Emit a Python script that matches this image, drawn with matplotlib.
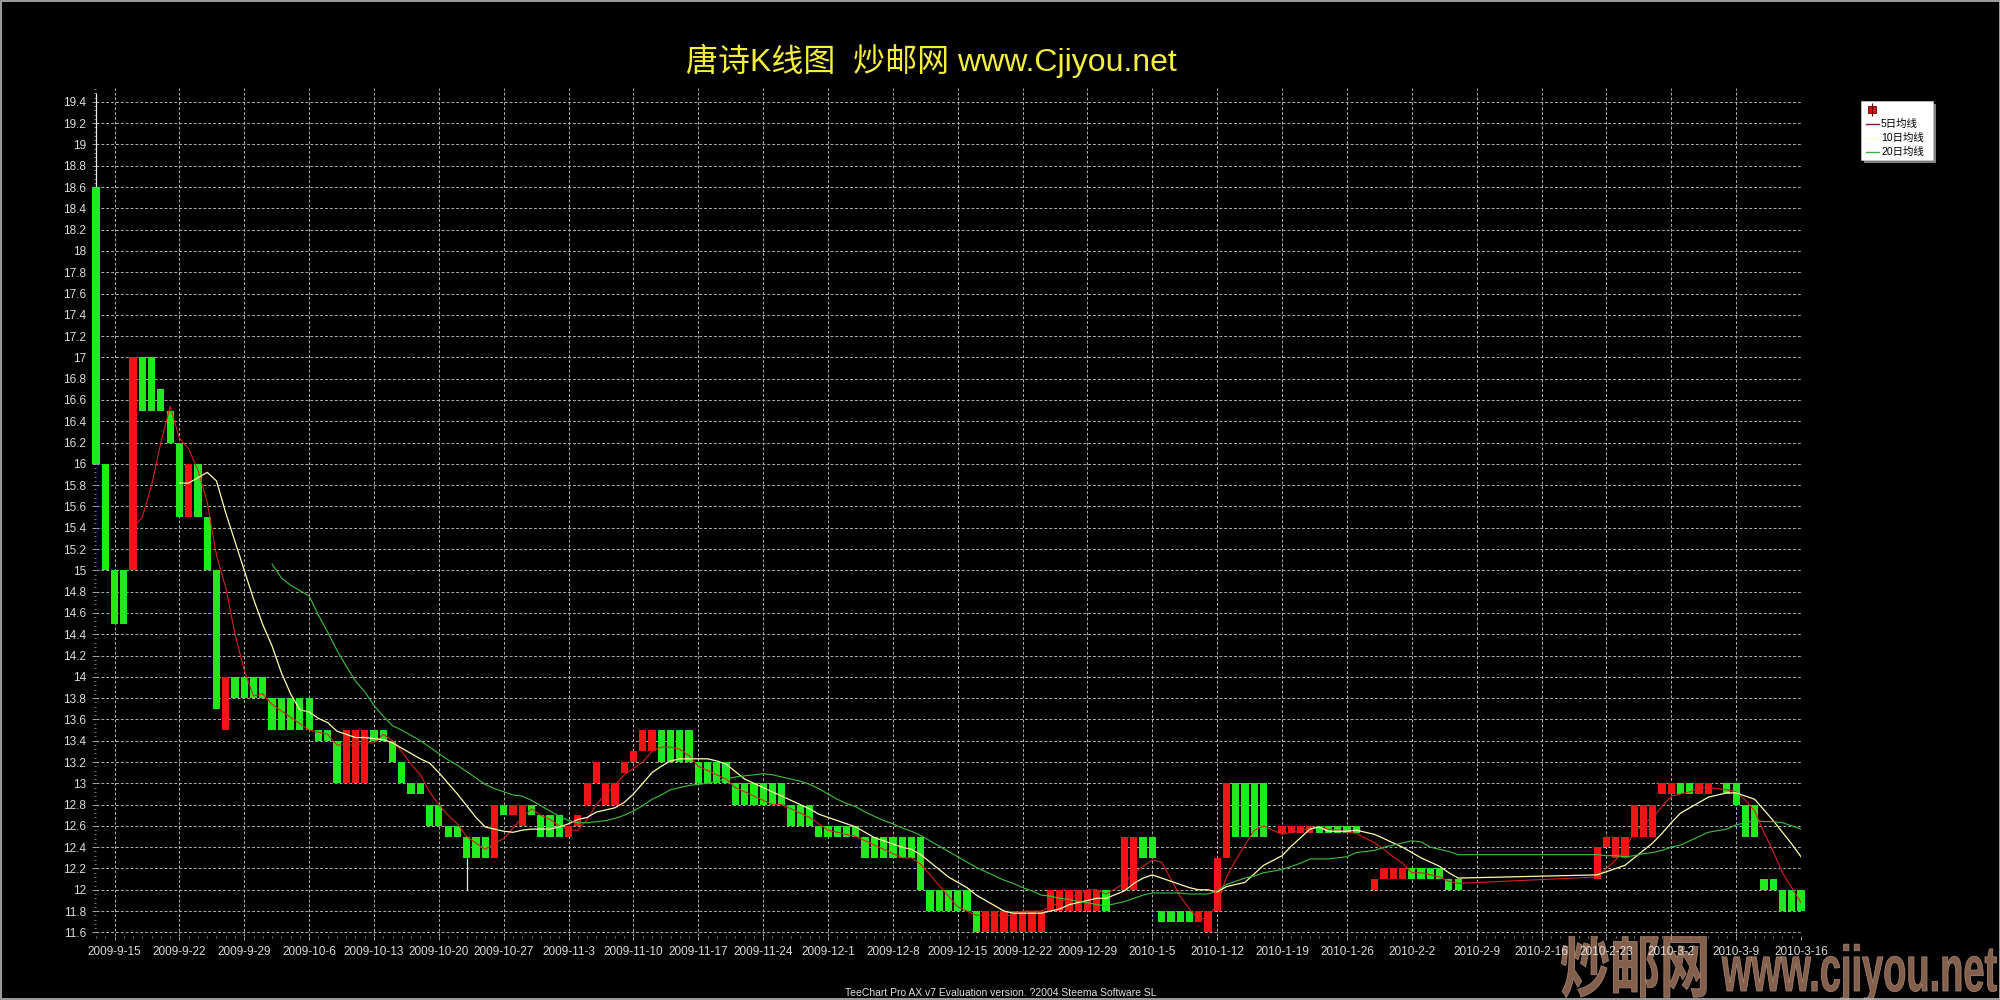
import matplotlib
matplotlib.use('Agg')
import matplotlib.pyplot as plt
import matplotlib.dates as mdates
import pandas as pd
from matplotlib.ticker import MultipleLocator, AutoMinorLocator, FuncFormatter
from matplotlib.patches import Rectangle, PathPatch
from matplotlib.textpath import TextPath
from matplotlib.font_manager import FontProperties
from matplotlib.transforms import Affine2D

plt.rcParams['font.family'] = ['Liberation Sans', 'Noto Sans CJK SC', 'DejaVu Sans']

# ---- candle data ----
dates = [
    '2009-09-13', '2009-09-14', '2009-09-15', '2009-09-16', '2009-09-17', '2009-09-18', '2009-09-19',
    '2009-09-20', '2009-09-21', '2009-09-22', '2009-09-23', '2009-09-24', '2009-09-25', '2009-09-26',
    '2009-09-27', '2009-09-28', '2009-09-29', '2009-09-30',
    '2009-10-01', '2009-10-02', '2009-10-03', '2009-10-04', '2009-10-05', '2009-10-06', '2009-10-07',
    '2009-10-08', '2009-10-09', '2009-10-10', '2009-10-11', '2009-10-12', '2009-10-13', '2009-10-14',
    '2009-10-15', '2009-10-16', '2009-10-17', '2009-10-18', '2009-10-19', '2009-10-20', '2009-10-21',
    '2009-10-22', '2009-10-23', '2009-10-24', '2009-10-25', '2009-10-26', '2009-10-27', '2009-10-28',
    '2009-10-29', '2009-10-30', '2009-10-31',
    '2009-11-01', '2009-11-02', '2009-11-03', '2009-11-04', '2009-11-05', '2009-11-06', '2009-11-07',
    '2009-11-08', '2009-11-09', '2009-11-10', '2009-11-11', '2009-11-12', '2009-11-13', '2009-11-14',
    '2009-11-15', '2009-11-16', '2009-11-17', '2009-11-18', '2009-11-19', '2009-11-20', '2009-11-21',
    '2009-11-22', '2009-11-23', '2009-11-24', '2009-11-25', '2009-11-26', '2009-11-27', '2009-11-28',
    '2009-11-29', '2009-11-30',
    '2009-12-01', '2009-12-02', '2009-12-03', '2009-12-04', '2009-12-05', '2009-12-06', '2009-12-07',
    '2009-12-08', '2009-12-09', '2009-12-10', '2009-12-11', '2009-12-12', '2009-12-13', '2009-12-14',
    '2009-12-15', '2009-12-16', '2009-12-17', '2009-12-18', '2009-12-19', '2009-12-20', '2009-12-21',
    '2009-12-22', '2009-12-23', '2009-12-24', '2009-12-25', '2009-12-26', '2009-12-27', '2009-12-28',
    '2009-12-29', '2009-12-30', '2009-12-31',
    '2010-01-02', '2010-01-03', '2010-01-04', '2010-01-05', '2010-01-06', '2010-01-07', '2010-01-08',
    '2010-01-09', '2010-01-10', '2010-01-11', '2010-01-12', '2010-01-13', '2010-01-14', '2010-01-15',
    '2010-01-16', '2010-01-17',
    '2010-01-19', '2010-01-20', '2010-01-21', '2010-01-22', '2010-01-23', '2010-01-24', '2010-01-25',
    '2010-01-26', '2010-01-27',
    '2010-01-29', '2010-01-30', '2010-01-31', '2010-02-01', '2010-02-02', '2010-02-03', '2010-02-04',
    '2010-02-05', '2010-02-06', '2010-02-07',
    '2010-02-22', '2010-02-23', '2010-02-24', '2010-02-25', '2010-02-26', '2010-02-27', '2010-02-28',
    '2010-03-01', '2010-03-02', '2010-03-03', '2010-03-04', '2010-03-05', '2010-03-06',
    '2010-03-08', '2010-03-09', '2010-03-10', '2010-03-11', '2010-03-12', '2010-03-13', '2010-03-14',
    '2010-03-15', '2010-03-16',
]

opens = [
    18.6, 16.0, 15.0, 15.0, 15.0, 17.0, 17.0, 16.7, 16.5, 16.2, 15.5, 16.0, 15.5, 15.0, 13.5, 14.0, 14.0, 14.0,
    14.0, 13.8, 13.8, 13.8, 13.8, 13.8, 13.5, 13.5, 13.4, 13.0, 13.0, 13.0, 13.5, 13.5, 13.4, 13.2, 13.0, 13.0,
    12.8, 12.8, 12.6, 12.6, 12.5, 12.5, 12.5, 12.3, 12.8, 12.7, 12.6, 12.8, 12.7,
    12.7, 12.7, 12.5, 12.6, 12.8, 13.0, 12.8, 12.8, 13.1, 13.2, 13.3, 13.3, 13.5, 13.5, 13.5, 13.5, 13.2, 13.2,
    13.2, 13.2, 13.0, 13.0, 13.0, 13.0, 13.0, 13.0, 12.8, 12.8, 12.8, 12.6,
    12.6, 12.6, 12.6, 12.6, 12.5, 12.5, 12.5, 12.5, 12.5, 12.5, 12.5, 12.0, 12.0, 12.0, 12.0, 12.0, 11.8, 11.6,
    11.6, 11.6, 11.6, 11.6, 11.6, 11.6, 11.8, 11.8, 11.8, 11.8, 11.8, 11.8, 12.0,
    12.0, 12.0, 12.5, 12.5, 11.8, 11.8, 11.8, 11.8, 11.7, 11.6, 11.8, 12.3, 13.0, 13.0, 13.0, 13.0,
    12.53, 12.53, 12.53, 12.53, 12.6, 12.6, 12.6, 12.6, 12.6,
    12.0, 12.1, 12.1, 12.1, 12.2, 12.2, 12.2, 12.2, 12.1, 12.1,
    12.1, 12.4, 12.3, 12.3, 12.5, 12.5, 12.5, 12.9, 12.9, 13.0, 13.0, 12.9, 12.9,
    13.0, 13.0, 12.8, 12.8, 12.1, 12.1, 12.0, 12.0, 12.0,
]

closes = [
    16.0, 15.0, 14.5, 14.5, 17.0, 16.5, 16.5, 16.5, 16.2, 15.5, 16.0, 15.5, 15.0, 13.7, 14.0, 13.8, 13.8, 13.8,
    13.8, 13.5, 13.5, 13.5, 13.5, 13.5, 13.4, 13.4, 13.0, 13.5, 13.5, 13.5, 13.4, 13.4, 13.2, 13.0, 12.9, 12.9,
    12.6, 12.6, 12.5, 12.5, 12.3, 12.3, 12.3, 12.8, 12.7, 12.8, 12.8, 12.7, 12.5,
    12.5, 12.5, 12.6, 12.7, 13.0, 13.2, 13.0, 13.0, 13.2, 13.3, 13.5, 13.5, 13.2, 13.2, 13.2, 13.2, 13.0, 13.0,
    13.0, 13.0, 12.8, 12.8, 12.8, 12.8, 12.8, 12.8, 12.6, 12.6, 12.6, 12.5,
    12.5, 12.5, 12.5, 12.5, 12.3, 12.3, 12.3, 12.3, 12.3, 12.3, 12.0, 11.8, 11.8, 11.8, 11.8, 11.8, 11.6, 11.8,
    11.8, 11.8, 11.8, 11.8, 11.8, 11.8, 12.0, 12.0, 12.0, 12.0, 12.0, 12.0, 11.8,
    12.5, 12.5, 12.3, 12.3, 11.7, 11.7, 11.7, 11.7, 11.8, 11.8, 12.3, 13.0, 12.5, 12.5, 12.5, 12.5,
    12.6, 12.6, 12.6, 12.6, 12.53, 12.53, 12.53, 12.53, 12.53,
    12.1, 12.2, 12.2, 12.2, 12.1, 12.1, 12.1, 12.1, 12.0, 12.0,
    12.4, 12.5, 12.5, 12.5, 12.8, 12.8, 12.8, 13.0, 13.0, 12.9, 12.9, 13.0, 13.0,
    12.9, 12.8, 12.5, 12.5, 12.0, 12.0, 11.8, 11.8, 11.8,
]

# shadows that stick out of the body
wick_high = {'2009-09-13': 19.48}
wick_low = {'2009-10-23': 12.0}

# moving averages as drawn (5 / 10 / 20 day), starting at the 5th / 10th / 20th candle
ma5 = [
    15.40, 15.50, 15.80, 16.20, 16.54, 16.24, 16.14, 15.94, 15.64, 15.14, 14.84, 14.40, 14.06, 13.82,
    13.84, 13.74, 13.68, 13.62, 13.56, 13.50, 13.48, 13.46, 13.36, 13.36, 13.36, 13.38, 13.38, 13.46,
    13.40, 13.30, 13.18, 13.08, 12.92, 12.80, 12.70, 12.62, 12.50, 12.44, 12.38, 12.44, 12.48, 12.58,
    12.68, 12.76, 12.70, 12.66, 12.60, 12.56, 12.56, 12.66, 12.80, 12.90, 12.98, 13.08, 13.14, 13.20,
    13.30, 13.34, 13.34, 13.32, 13.26, 13.16, 13.12, 13.08, 13.04, 12.96, 12.92, 12.88, 12.84, 12.80,
    12.80, 12.76, 12.72, 12.68, 12.62, 12.56, 12.54, 12.52, 12.50, 12.46, 12.42, 12.38, 12.34, 12.30,
    12.30, 12.24, 12.14, 12.04, 11.94, 11.84, 11.80, 11.76, 11.76, 11.76, 11.76, 11.76, 11.80, 11.80,
    11.80, 11.84, 11.88, 11.92, 11.96, 12.00, 12.00, 11.96, 12.06, 12.16, 12.22, 12.28, 12.26, 12.10,
    11.94, 11.82, 11.72, 11.74, 11.86, 12.12, 12.28, 12.42, 12.56, 12.60, 12.52, 12.54, 12.56, 12.58,
    12.59, 12.57, 12.56, 12.54, 12.53, 12.44, 12.38, 12.31, 12.25, 12.16, 12.16, 12.14, 12.12, 12.08,
    12.06, 12.12, 12.20, 12.28, 12.38, 12.54, 12.62, 12.68, 12.78, 12.88, 12.90, 12.92, 12.96, 12.96,
    12.94, 12.92, 12.84, 12.74, 12.54, 12.36, 12.16, 12.02, 11.88,
]
ma10 = [
    15.82, 15.82, 15.87, 15.92, 15.84, 15.54, 15.27, 15.00, 14.73, 14.49, 14.29, 14.04, 13.84, 13.69,
    13.67, 13.61, 13.57, 13.49, 13.46, 13.43, 13.43, 13.42, 13.41, 13.38, 13.33, 13.28, 13.23, 13.19,
    13.10, 13.00, 12.90, 12.79, 12.68, 12.59, 12.57, 12.55, 12.54, 12.56, 12.57, 12.57, 12.57, 12.59,
    12.62, 12.66, 12.68, 12.73, 12.75, 12.77, 12.82, 12.90, 13.00, 13.10, 13.16, 13.21, 13.23, 13.23,
    13.23, 13.23, 13.21, 13.18, 13.11, 13.04, 13.00, 12.96, 12.92, 12.88, 12.84, 12.80, 12.76, 12.71,
    12.68, 12.65, 12.62, 12.59, 12.54, 12.49, 12.46, 12.43, 12.40, 12.38, 12.33, 12.26, 12.19, 12.12,
    12.07, 12.02, 11.95, 11.90, 11.85, 11.80, 11.78, 11.78, 11.78, 11.78, 11.80, 11.82, 11.86, 11.88,
    11.90, 11.92, 11.92, 11.99, 12.06, 12.11, 12.14, 12.11, 12.08, 12.05, 12.02, 12.00, 12.00, 11.98,
    12.03, 12.05, 12.07, 12.15, 12.23, 12.32, 12.41, 12.49, 12.57, 12.59, 12.55, 12.55, 12.55, 12.56,
    12.52, 12.48, 12.44, 12.40, 12.35, 12.30, 12.26, 12.22, 12.16, 12.11, 12.14, 12.17, 12.20, 12.23,
    12.30, 12.37, 12.44, 12.53, 12.63, 12.72, 12.77, 12.82, 12.87, 12.91, 12.91, 12.88, 12.85, 12.75,
    12.65, 12.54, 12.43, 12.31,
]
ma20 = [
    15.06, 14.93, 14.86, 14.81, 14.76, 14.58, 14.42, 14.25, 14.10, 13.96, 13.86, 13.73, 13.63, 13.54,
    13.50, 13.45, 13.40, 13.34, 13.28, 13.22, 13.17, 13.11, 13.05, 12.99, 12.95, 12.92, 12.89, 12.88,
    12.84, 12.79, 12.74, 12.69, 12.65, 12.63, 12.63, 12.64, 12.65, 12.67, 12.70, 12.74, 12.79, 12.85,
    12.89, 12.94, 12.96, 12.98, 12.99, 13.00, 13.02, 13.04, 13.06, 13.07, 13.08, 13.09, 13.08, 13.06,
    13.04, 13.02, 12.99, 12.95, 12.90, 12.85, 12.81, 12.78, 12.73, 12.69, 12.65, 12.62, 12.58, 12.55,
    12.51, 12.46, 12.41, 12.36, 12.31, 12.26, 12.21, 12.17, 12.13, 12.09, 12.06, 12.02, 11.99, 11.95,
    11.94, 11.92, 11.91, 11.89, 11.88, 11.86, 11.85, 11.89, 11.92, 11.95, 11.97, 11.97, 11.97, 11.97,
    11.96, 11.96, 11.96, 11.99, 12.05, 12.08, 12.11, 12.13, 12.16, 12.19, 12.22, 12.25, 12.29, 12.29,
    12.29, 12.30, 12.31, 12.35, 12.37, 12.40, 12.42, 12.44, 12.46, 12.45, 12.40, 12.38, 12.36, 12.33,
    12.33, 12.32, 12.32, 12.31, 12.32, 12.34, 12.35, 12.37, 12.40, 12.42, 12.46, 12.50, 12.54, 12.57,
    12.61, 12.63, 12.65, 12.64, 12.64, 12.63, 12.60, 12.57,
]

legend_labels = ['5日均线', '10日均线', '20日均线']
title = '唐诗K线图  炒邮网 www.Cjiyou.net'
footer = 'TeeChart Pro AX v7 Evaluation version. ?2004 Steema Software SL'

UP, DOWN = '#f21414', '#1eea1e'
MA_COLORS = ['#d42020', '#ffffa8', '#3cc03c']
LEGEND_LINE = ['#80183a', '#ffffc8', '#40b040']

# ---- figure ----
fig = plt.figure(figsize=(20, 10), dpi=100, facecolor='black')
ax = fig.add_axes([0.048, 0.064, 0.8525, 0.848])
ax.set_facecolor('black')

x = mdates.date2num(pd.to_datetime(dates))
bottoms = [min(o, c) for o, c in zip(opens, closes)]
heights = [abs(c - o) for o, c in zip(opens, closes)]
colors = [UP if c > o else DOWN for o, c in zip(opens, closes)]

for d, hi in wick_high.items():
    i = dates.index(d)
    ax.vlines(x[i], max(opens[i], closes[i]), hi, color='#e8e8e8', lw=0.9, zorder=2.5, clip_on=False)
for d, lo in wick_low.items():
    i = dates.index(d)
    ax.vlines(x[i], lo, min(opens[i], closes[i]), color='#e8e8e8', lw=0.9, zorder=2.5)

ax.bar(x, heights, bottom=bottoms, width=0.78, color=colors, linewidth=0, zorder=3, clip_on=False)

ax.plot(x[4:], ma5, color=MA_COLORS[0], lw=0.8, zorder=4)
ax.plot(x[9:], ma10, color=MA_COLORS[1], lw=0.9, zorder=4)
ax.plot(x[19:], ma20, color=MA_COLORS[2], lw=0.8, zorder=4)

ax.set_xlim(x[0], x[-1])
ax.set_ylim(11.566, 19.53)


def date_label(v, pos):
    t = mdates.num2date(v)
    return f'{t.year}-{t.month}-{t.day}'


ax.xaxis.set_major_locator(mdates.WeekdayLocator(byweekday=mdates.TU))
ax.xaxis.set_minor_locator(mdates.DayLocator())
ax.xaxis.set_major_formatter(FuncFormatter(date_label))
ax.yaxis.set_major_locator(MultipleLocator(0.2))
ax.yaxis.set_minor_locator(AutoMinorLocator(5))
ax.yaxis.set_major_formatter(FuncFormatter(lambda v, p: f'{round(v, 1):g}'))

ax.grid(which='major', color='#b0b0b0', linestyle=(0, (3, 2)), linewidth=0.7)
ax.set_axisbelow(True)
for s in ax.spines.values():
    s.set_visible(False)
ax.tick_params(which='major', length=3, width=0.7, color='#a0a0a0',
               labelcolor='#dcdcdc', labelsize=8.5, pad=4)
ax.tick_params(which='minor', length=1.5, width=0.6, color='#909090')

fig.text(0.4655, 0.939, title, color='#f4ee3c', fontsize=23, ha='center', va='center')
fig.text(0.5005, 0.007, footer, color='#e0e0e0', fontsize=7.5, ha='center', va='center')

# ---- overlay in pixel units: legend, watermark, border ----
ov = fig.add_axes([0, 0, 1, 1], zorder=-1)
ov.set_xlim(0, 2000)
ov.set_ylim(1000, 0)
ov.axis('off')
ov.patch.set_visible(False)

ov.add_patch(Rectangle((1864, 104), 72, 59, facecolor='#808080', edgecolor='none'))
ov.add_patch(Rectangle((1861, 101), 72, 59, facecolor='white', edgecolor='#c8c8c8', lw=0.5))
ov.vlines(1871.5, 103, 115.5, color='#700000', lw=0.8)
ov.add_patch(Rectangle((1867.5, 105.5), 8, 7, facecolor='#d01414', edgecolor='#700000', lw=0.6))
for k, (lab, col) in enumerate(zip(legend_labels, LEGEND_LINE)):
    yy = 123.5 + 14 * k
    ov.plot([1866, 1879], [yy, yy], color=col, lw=1.0)
    ov.text(1881, yy, lab, fontsize=7.5, color='black', ha='left', va='center')


def stretched_text(s, x0, base, em, sx, sy, family, color):
    tp = TextPath((0, 0), s, size=em, prop=FontProperties(family=family, weight='bold'))
    tr = Affine2D().scale(sx, -sy).translate(x0, base) + ov.transData
    ov.add_patch(PathPatch(tp, transform=tr, facecolor=color, edgecolor='#a08270', lw=0.6))


stretched_text('炒邮网', 1560, 991, 50, 1.0, 1.42, 'Noto Sans CJK SC', '#84604c')
stretched_text('www.cjiyou.net', 1722, 991, 38, 1.0, 1.7, 'Liberation Sans', '#84604c')

ov.add_patch(Rectangle((0.5, 0.5), 1999, 998, fill=False, edgecolor='#b8b8b8', lw=1.2))

fig.savefig('out.png', dpi=100, facecolor='black')
